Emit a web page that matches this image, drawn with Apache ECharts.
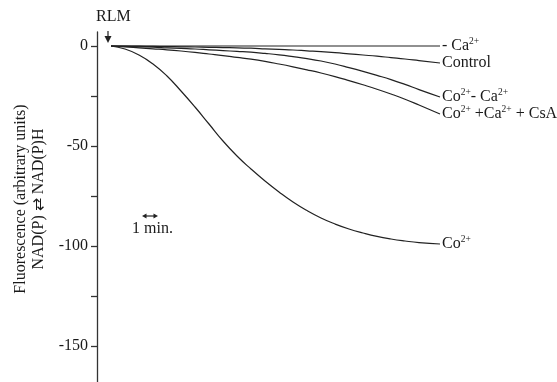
<!DOCTYPE html>
<html>
<head>
<meta charset="utf-8">
<script src="https://cdn.jsdelivr.net/npm/echarts@6/dist/echarts.min.js"></script>
<style>
html, body { margin: 0; padding: 0; background: #fff; }
#chart { width: 557px; height: 382px; }
</style>
</head>
<body>
<div id="chart"></div>
<script>
// time in minutes after RLM addition
const times = [0, 1, 2, 3, 4, 5, 6, 7, 8, 9, 10, 11, 12, 13, 14, 15, 16, 17, 18, 19, 20, 21, 22, 23.5]
const noCa = [0, 0, 0, 0, 0, 0, 0, 0, 0, 0, 0, 0, 0, 0, 0, 0, 0, 0, 0, 0, 0, 0, 0, 0]
const control = [0, -0.05, -0.1, -0.2, -0.3, -0.4, -0.5, -0.65, -0.8, -0.9, -1.1, -1.4, -1.7, -2.0, -2.4, -2.8, -3.3, -3.9, -4.5, -5.1, -5.8, -6.5, -7.3, -8.5]
const coNoCa = [0, -0.2, -0.4, -0.6, -0.9, -1.2, -1.5, -1.9, -2.3, -2.7, -3.1, -3.7, -4.4, -5.3, -6.3, -7.5, -9, -10.8, -12.7, -14.7, -16.8, -19.2, -21.8, -25.5]
const coCaCsA = [0, -0.4, -0.9, -1.4, -1.9, -2.5, -3.2, -4, -4.8, -5.7, -6.6, -7.7, -9, -10.4, -11.9, -13.5, -15.3, -17.3, -19.4, -21.6, -24, -26.6, -29.5, -34]
const co = [0, -1.5, -4.5, -9, -15, -22.5, -30.5, -39, -47.5, -55, -61.5, -67.5, -73, -78, -82.3, -86, -89, -91.5, -93.5, -95.2, -96.5, -97.5, -98.3, -99]

const seriesNames = ['- Ca{s|2+}', 'Control', 'Co{s|2+}- Ca{s|2+}', 'Co{s|2+} +Ca{s|2+} + CsA', 'Co{s|2+}']
const seriesValues = [noCa, control, coNoCa, coCaCsA, co]

const yTicks = [0, -25, -50, -75, -100, -125, -150]
const yLabels = [0, -50, -100, -150]

const serif = 'Liberation Serif'
const ink = '#1a1a1a'

const chart = echarts.init(document.getElementById('chart'))

const series = seriesValues.map((vals, i) => {
  return {
    type: 'line',
    data: times.map((t, j) => [t, vals[j]]),
    smooth: 0.5,
    symbol: 'none',
    lineStyle: { color: '#222', width: 1.2 },
    endLabel: {
      show: true,
      distance: 2,
      formatter: seriesNames[i],
      color: ink,
      fontFamily: serif,
      fontSize: 16,
      lineHeight: 18,
      rich: {
        s: { fontFamily: serif, fontSize: 9.5, lineHeight: 20, verticalAlign: 'top', color: ink }
      }
    }
  }
})

const option = {
  backgroundColor: '#fff',
  animation: false,
  grid: { left: 97, top: 32, width: 350, height: 350, outerBoundsMode: 'none', containLabel: false },
  xAxis: {
    type: 'value',
    min: -1,
    max: 24,
    show: false
  },
  yAxis: {
    type: 'value',
    min: -168,
    max: 7,
    name: 'Fluorescence (arbitrary units)\nNAD(P) ⇄ NAD(P)H',
    nameLocation: 'middle',
    nameRotate: 90,
    nameGap: 44,
    nameTextStyle: { fontFamily: serif, fontSize: 16, lineHeight: 18, color: ink, padding: [0, 0, 0, 16] },
    axisLine: { show: true, onZero: false, lineStyle: { color: '#333', width: 1.3 } },
    axisTick: { show: true, length: 6, customValues: yTicks, lineStyle: { color: '#333', width: 1.3 } },
    axisLabel: { customValues: yLabels, margin: 9, fontFamily: serif, fontSize: 16, color: ink },
    splitLine: { show: false }
  },
  graphic: [
    { type: 'text', left: 96, top: 9, style: { text: 'RLM', font: '16px "Liberation Serif"', fill: ink } },
    { type: 'line', shape: { x1: 108, y1: 31, x2: 108, y2: 38 }, style: { stroke: '#222', lineWidth: 1.2 } },
    { type: 'polygon', shape: { points: [[104.5, 36], [111.5, 36], [108, 43]] }, style: { fill: '#222' } },
    { type: 'line', shape: { x1: 145, y1: 216, x2: 155, y2: 216 }, style: { stroke: '#222', lineWidth: 1.2 } },
    { type: 'polygon', shape: { points: [[142, 216], [146.5, 213.5], [146.5, 218.5]] }, style: { fill: '#222' } },
    { type: 'polygon', shape: { points: [[158, 216], [153.5, 213.5], [153.5, 218.5]] }, style: { fill: '#222' } },
    { type: 'text', left: 132, top: 221, style: { text: '1 min.', font: '16px "Liberation Serif"', fill: ink } }
  ],
  series: series
}

chart.setOption(option)
</script>
</body>
</html>
